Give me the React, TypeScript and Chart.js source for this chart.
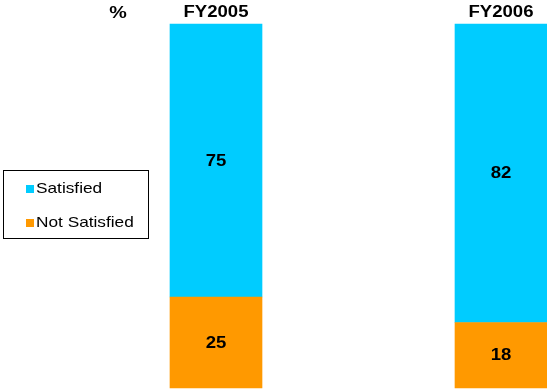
import React, { useEffect, useRef } from "react";
import { Chart, registerables } from "chart.js";

Chart.register(...registerables);

const categories = ["FY2005", "FY2006"];
const satisfied = [75, 82];
const notSatisfied = [25, 18];
const seriesNames = ["Satisfied", "Not Satisfied"];
const seriesColors = ["#00CCFF", "#FF9900"];
const unitLabel = "%";

const FONT = '"Liberation Sans", Arial, sans-serif';
const STRETCH = 1.16;

function drawStretched(ctx: CanvasRenderingContext2D, text: string, x: number, y: number) {
  ctx.save();
  ctx.translate(x, y);
  ctx.scale(STRETCH, 1);
  ctx.fillText(text, 0, 0);
  ctx.restore();
}

const textPlugin = {
  id: "textPlugin",
  afterDatasetsDraw(chart: any) {
    const ctx = chart.ctx as CanvasRenderingContext2D;
    ctx.save();
    ctx.fillStyle = "#000";
    ctx.textAlign = "center";
    ctx.textBaseline = "alphabetic";
    // values inside each segment
    ctx.font = `bold 16px ${FONT}`;
    chart.data.datasets.forEach((ds: any, di: number) => {
      const meta = chart.getDatasetMeta(di);
      meta.data.forEach((el: any, i: number) => {
        const cy = (el.y + el.base) / 2;
        drawStretched(ctx, String(ds.data[i]), el.x, cy + 5);
      });
    });
    // category labels above bars, from the x scale
    const xs = chart.scales.x;
    const top = chart.chartArea.top;
    chart.data.labels.forEach((lab: string, i: number) => {
      drawStretched(ctx, lab, xs.getPixelForValue(i), top - 7);
    });
    // unit label
    ctx.font = `bold 17px ${FONT}`;
    drawStretched(ctx, unitLabel, 118, top - 6);
    ctx.restore();
  },
};

export default function App() {
  const ref = useRef<HTMLCanvasElement>(null);
  useEffect(() => {
    if (!ref.current) return;
    const chart = new Chart(ref.current, {
      type: "bar",
      data: {
        labels: categories,
        datasets: [
          {
            label: seriesNames[1],
            data: notSatisfied,
            backgroundColor: seriesColors[1],
            borderWidth: 0,
            barThickness: 92,
            clip: false,
          } as any,
          {
            label: seriesNames[0],
            data: satisfied,
            backgroundColor: seriesColors[0],
            borderWidth: 0,
            barThickness: 92,
            clip: false,
          } as any,
        ],
      },
      options: {
        animation: false,
        responsive: true,
        maintainAspectRatio: false,
        layout: { padding: { left: 216, right: 46, top: 24, bottom: 1 } },
        plugins: { legend: { display: false }, tooltip: { enabled: false } },
        scales: {
          x: {
            type: "category",
            stacked: true,
            offset: false,
            display: false,
          },
          y: {
            stacked: true,
            min: 0,
            max: 100,
            display: false,
          },
        },
      },
      plugins: [textPlugin],
    });
    return () => chart.destroy();
  }, []);

  return (
    <div style={{ position: "fixed", left: 0, top: 0, width: 547, height: 389, background: "#fff" }}>
      <canvas ref={ref} />
      <div
        style={{
          position: "absolute",
          left: 3,
          top: 170,
          width: 146,
          height: 69,
          border: "1px solid #000",
          boxSizing: "border-box",
          fontFamily: FONT,
          fontSize: 15,
          color: "#000",
        }}
      >
        {[0, 1].map((i) => (
          <div
            key={i}
            style={{
              position: "absolute",
              left: 22,
              top: i === 0 ? 8 : 42,
              height: 17,
              lineHeight: "17px",
              whiteSpace: "nowrap",
            }}
          >
            <span
              style={{
                display: "inline-block",
                width: 8,
                height: 8,
                background: seriesColors[i],
                marginRight: 2,
                verticalAlign: "baseline",
              }}
            />
            <span style={{ display: "inline-block", transform: `scaleX(${STRETCH - 0.01})`, transformOrigin: "left center" }}>
              {seriesNames[i]}
            </span>
          </div>
        ))}
      </div>
    </div>
  );
}
